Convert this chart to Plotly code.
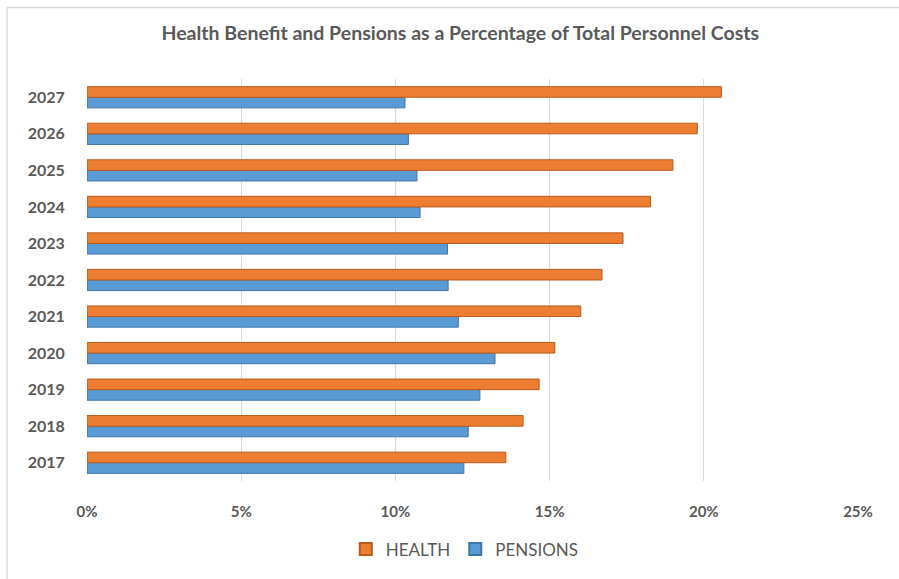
import plotly.graph_objects as go

years = ["2017", "2018", "2019", "2020", "2021", "2022", "2023", "2024", "2025", "2026", "2027"]
health = [13.58, 14.14, 14.66, 15.17, 16.01, 16.70, 17.38, 18.27, 19.00, 19.79, 20.57]
pensions = [12.22, 12.36, 12.74, 13.23, 12.04, 11.71, 11.69, 10.80, 10.70, 10.42, 10.31]
x_ticks = [0, 5, 10, 15, 20, 25]
x_tick_labels = ["0%", "5%", "10%", "15%", "20%", "25%"]

GRAY = "#595959"
FONT = "Lato"

fig = go.Figure()
fig.add_trace(go.Bar(
    y=years, x=pensions, orientation="h", name="PENSIONS",
    marker=dict(color="#5B9BD5", line=dict(color="#3F76A8", width=1)),
    legendrank=2,
))
fig.add_trace(go.Bar(
    y=years, x=health, orientation="h", name="HEALTH",
    marker=dict(color="#ED7D31", line=dict(color="#B85A1C", width=1)),
    legendrank=1,
))

fig.update_layout(
    width=899, height=579,
    margin=dict(l=87, r=41, t=79, b=96),
    paper_bgcolor="white", plot_bgcolor="white",
    barmode="group", bargap=0.42, bargroupgap=0,
    title=dict(
        text="<b>Health Benefit and Pensions as a Percentage of Total Personnel Costs</b>",
        x=0.512, xanchor="center", y=1 - 33 / 579, yanchor="middle",
        font=dict(family=FONT, size=19.5, color=GRAY),
    ),
    xaxis=dict(
        range=[0, 25], tickvals=x_ticks, ticktext=x_tick_labels,
        showgrid=True, gridcolor="#D9D9D9", gridwidth=1.3,
        zeroline=False, showline=False,
        ticks="outside", ticklen=17, tickcolor="rgba(0,0,0,0)",
        tickfont=dict(family=FONT, size=15, color=GRAY, weight="bold"),
        fixedrange=True,
    ),
    yaxis=dict(
        categoryorder="array", categoryarray=years,
        showgrid=False, zeroline=False, showline=False,
        ticks="outside", ticklen=18, tickcolor="rgba(0,0,0,0)",
        tickfont=dict(family=FONT, size=16, color=GRAY, weight="bold"),
        fixedrange=True,
    ),
    legend=dict(
        orientation="h", x=0.49, xanchor="center", y=-0.17, yanchor="middle",
        font=dict(family=FONT, size=17, color=GRAY),
        itemsizing="constant", itemwidth=30, traceorder="normal",
    ),
    showlegend=True,
    shapes=[
        dict(type="line", xref="paper", yref="paper",
             x0=(7 - 87) / 771, x1=1.2, y0=(483.4 - 6.5) / 404.8, y1=(483.4 - 6.5) / 404.8,
             line=dict(color="#D9D9D9", width=1.5)),
        dict(type="line", xref="paper", yref="paper",
             x0=(7 - 87) / 771, x1=(7 - 87) / 771, y0=(483.4 - 6.5) / 404.8, y1=-0.3,
             line=dict(color="#D9D9D9", width=1.5)),
    ],
)

fig.write_html("out.html")
